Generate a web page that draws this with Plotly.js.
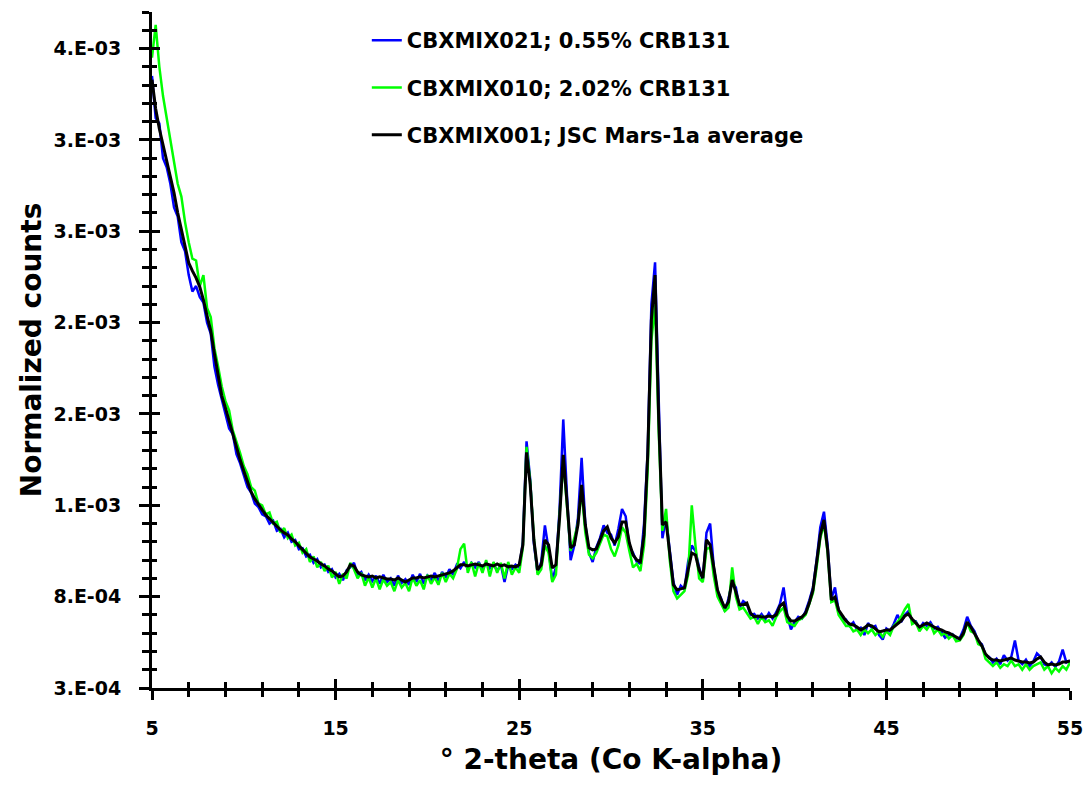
<!DOCTYPE html>
<html><head><meta charset="utf-8">
<script src="https://cdn.plot.ly/plotly-3.0.1.min.js"></script>
<style>html,body{margin:0;padding:0;background:#fff}#chart{width:1089px;height:786px}</style>
</head><body><div id="chart"></div>
<script>
const twoTheta = [5,5.2,5.4,5.6,5.8,6,6.2,6.4,6.6,6.8,
7,7.2,7.4,7.6,7.8,8,8.2,8.4,8.6,8.8,
9,9.2,9.4,9.6,9.8,10,10.2,10.4,10.6,10.8,
11,11.2,11.4,11.6,11.8,12,12.2,12.4,12.6,12.8,
13,13.2,13.4,13.6,13.8,14,14.2,14.4,14.6,14.8,
15,15.2,15.4,15.6,15.8,16,16.2,16.4,16.6,16.8,
17,17.2,17.4,17.6,17.8,18,18.2,18.4,18.6,18.8,
19,19.2,19.4,19.6,19.8,20,20.2,20.4,20.6,20.8,
21,21.2,21.4,21.6,21.8,22,22.2,22.4,22.6,22.8,
23,23.2,23.4,23.6,23.8,24,24.2,24.4,24.6,24.8,
25,25.2,25.4,25.6,25.8,26,26.2,26.4,26.6,26.8,
27,27.2,27.4,27.6,27.8,28,28.2,28.4,28.6,28.8,
29,29.2,29.4,29.6,29.8,30,30.2,30.4,30.6,30.8,
31,31.2,31.4,31.6,31.8,32,32.2,32.4,32.6,32.8,
33,33.2,33.4,33.6,33.8,34,34.2,34.4,34.6,34.8,
35,35.2,35.4,35.6,35.8,36,36.2,36.4,36.6,36.8,
37,37.2,37.4,37.6,37.8,38,38.2,38.4,38.6,38.8,
39,39.2,39.4,39.6,39.8,40,40.2,40.4,40.6,40.8,
41,41.2,41.4,41.6,41.8,42,42.2,42.4,42.6,42.8,
43,43.2,43.4,43.6,43.8,44,44.2,44.4,44.6,44.8,
45,45.2,45.4,45.6,45.8,46,46.2,46.4,46.6,46.8,
47,47.2,47.4,47.6,47.8,48,48.2,48.4,48.6,48.8,
49,49.2,49.4,49.6,49.8,50,50.2,50.4,50.6,50.8,
51,51.2,51.4,51.6,51.8,52,52.2,52.4,52.6,52.8,
53,53.2,53.4,53.6,53.8,54,54.2,54.4,54.6,54.8,
55];

const seriesNames = ["CBXMIX021; 0.55% CRB131", "CBXMIX010; 2.02% CRB131", "CBXMIX001; JSC Mars-1a average"];
const seriesColors = ["#0000FF", "#00FF00", "#000000"];

const countsMix021 = [3650e-6,3420e-6,3390e-6,3200e-6,3150e-6,3060e-6,2930e-6,2880e-6,2740e-6,2690e-6,
2560e-6,2470e-6,2500e-6,2440e-6,2410e-6,2300e-6,2240e-6,2060e-6,1960e-6,1880e-6,
1810e-6,1720e-6,1690e-6,1580e-6,1530e-6,1470e-6,1400e-6,1370e-6,1310e-6,1290e-6,
1250e-6,1240e-6,1200e-6,1215e-6,1160e-6,1170e-6,1125e-6,1150e-6,1100e-6,1110e-6,
1060e-6,1065e-6,1020e-6,1030e-6,985e-6,1005e-6,960e-6,975e-6,935e-6,950e-6,
905e-6,925e-6,890e-6,945e-6,960e-6,985e-6,920e-6,935e-6,890e-6,920e-6,
885e-6,915e-6,870e-6,920e-6,880e-6,900e-6,860e-6,915e-6,875e-6,895e-6,
865e-6,920e-6,880e-6,925e-6,870e-6,915e-6,890e-6,930e-6,885e-6,935e-6,
905e-6,950e-6,920e-6,975e-6,955e-6,990e-6,950e-6,985e-6,960e-6,990e-6,
945e-6,990e-6,955e-6,980e-6,940e-6,975e-6,880e-6,970e-6,950e-6,975e-6,
960e-6,1100e-6,1650e-6,1440e-6,1090e-6,930e-6,990e-6,1190e-6,1060e-6,890e-6,
960e-6,1280e-6,1770e-6,1360e-6,1000e-6,1080e-6,1230e-6,1560e-6,1200e-6,1040e-6,
990e-6,1070e-6,1120e-6,1190e-6,1150e-6,1140e-6,1080e-6,1170e-6,1280e-6,1240e-6,
1070e-6,1040e-6,990e-6,980e-6,1200e-6,1600e-6,2400e-6,2630e-6,1820e-6,1120e-6,
1230e-6,1060e-6,880e-6,810e-6,860e-6,840e-6,990e-6,1080e-6,1050e-6,960e-6,
890e-6,1150e-6,1200e-6,960e-6,830e-6,790e-6,720e-6,790e-6,880e-6,850e-6,
740e-6,775e-6,760e-6,700e-6,705e-6,680e-6,705e-6,675e-6,710e-6,680e-6,
715e-6,760e-6,850e-6,700e-6,620e-6,660e-6,690e-6,680e-6,720e-6,780e-6,
850e-6,1000e-6,1180e-6,1265e-6,1080e-6,790e-6,850e-6,720e-6,680e-6,675e-6,
640e-6,660e-6,620e-6,630e-6,590e-6,655e-6,630e-6,640e-6,590e-6,565e-6,
625e-6,610e-6,650e-6,700e-6,660e-6,700e-6,720e-6,670e-6,665e-6,625e-6,
655e-6,640e-6,660e-6,625e-6,635e-6,605e-6,575e-6,590e-6,595e-6,570e-6,
575e-6,620e-6,690e-6,640e-6,610e-6,555e-6,540e-6,480e-6,470e-6,440e-6,
460e-6,430e-6,480e-6,450e-6,470e-6,560e-6,450e-6,430e-6,455e-6,420e-6,
445e-6,490e-6,470e-6,430e-6,420e-6,440e-6,415e-6,445e-6,510e-6,440e-6,
450e-6];

const countsMix010 = [3750e-6,3930e-6,3700e-6,3540e-6,3420e-6,3300e-6,3190e-6,3060e-6,2990e-6,2850e-6,
2740e-6,2650e-6,2640e-6,2500e-6,2560e-6,2380e-6,2330e-6,2160e-6,2060e-6,1950e-6,
1870e-6,1820e-6,1710e-6,1650e-6,1585e-6,1515e-6,1470e-6,1400e-6,1380e-6,1310e-6,
1300e-6,1250e-6,1260e-6,1200e-6,1210e-6,1150e-6,1175e-6,1120e-6,1140e-6,1080e-6,
1095e-6,1040e-6,1060e-6,990e-6,1020e-6,960e-6,990e-6,940e-6,970e-6,905e-6,
935e-6,870e-6,925e-6,900e-6,985e-6,950e-6,900e-6,930e-6,860e-6,905e-6,
850e-6,900e-6,840e-6,895e-6,860e-6,880e-6,830e-6,890e-6,850e-6,875e-6,
830e-6,905e-6,860e-6,890e-6,840e-6,920e-6,870e-6,905e-6,865e-6,930e-6,
880e-6,925e-6,900e-6,950e-6,1060e-6,1090e-6,930e-6,990e-6,910e-6,985e-6,
930e-6,1000e-6,910e-6,990e-6,930e-6,985e-6,900e-6,990e-6,920e-6,960e-6,
930e-6,1070e-6,1620e-6,1430e-6,1120e-6,920e-6,950e-6,1080e-6,1040e-6,880e-6,
920e-6,1250e-6,1540e-6,1300e-6,1050e-6,1120e-6,1200e-6,1380e-6,1150e-6,1030e-6,
1010e-6,1040e-6,1090e-6,1140e-6,1130e-6,1060e-6,1020e-6,1080e-6,1180e-6,1150e-6,
1050e-6,960e-6,980e-6,940e-6,1080e-6,1500e-6,2200e-6,2400e-6,1700e-6,1160e-6,
1280e-6,1000e-6,830e-6,790e-6,810e-6,830e-6,920e-6,1300e-6,1080e-6,900e-6,
880e-6,1060e-6,1070e-6,910e-6,800e-6,760e-6,720e-6,740e-6,960e-6,800e-6,
730e-6,740e-6,710e-6,680e-6,690e-6,650e-6,690e-6,660e-6,670e-6,640e-6,
690e-6,720e-6,740e-6,660e-6,650e-6,640e-6,670e-6,680e-6,700e-6,760e-6,
820e-6,960e-6,1120e-6,1200e-6,1040e-6,770e-6,780e-6,700e-6,670e-6,640e-6,
640e-6,610e-6,620e-6,590e-6,620e-6,600e-6,620e-6,590e-6,610e-6,580e-6,
610e-6,590e-6,640e-6,660e-6,690e-6,730e-6,760e-6,650e-6,660e-6,610e-6,
640e-6,620e-6,650e-6,600e-6,620e-6,590e-6,600e-6,570e-6,590e-6,555e-6,
560e-6,590e-6,660e-6,610e-6,600e-6,540e-6,530e-6,460e-6,440e-6,420e-6,
440e-6,410e-6,430e-6,420e-6,450e-6,420e-6,430e-6,400e-6,430e-6,400e-6,
420e-6,430e-6,440e-6,400e-6,420e-6,380e-6,410e-6,390e-6,420e-6,400e-6,
440e-6];

const countsMix001 = [3629e-6,3471e-6,3361e-6,3273e-6,3186e-6,3093e-6,3011e-6,2901e-6,2808e-6,2704e-6,
2627e-6,2583e-6,2545e-6,2496e-6,2425e-6,2337e-6,2255e-6,2129e-6,2003e-6,1899e-6,
1833e-6,1762e-6,1680e-6,1609e-6,1549e-6,1488e-6,1434e-6,1373e-6,1335e-6,1302e-6,
1275e-6,1247e-6,1225e-6,1204e-6,1182e-6,1165e-6,1149e-6,1138e-6,1116e-6,1100e-6,
1078e-6,1056e-6,1039e-6,1017e-6,1006e-6,995e-6,979e-6,968e-6,952e-6,941e-6,
924e-6,908e-6,913e-6,935e-6,974e-6,968e-6,935e-6,919e-6,913e-6,908e-6,
913e-6,902e-6,908e-6,902e-6,897e-6,897e-6,891e-6,902e-6,891e-6,880e-6,
891e-6,902e-6,902e-6,908e-6,902e-6,908e-6,913e-6,908e-6,913e-6,919e-6,
924e-6,930e-6,941e-6,957e-6,974e-6,974e-6,968e-6,974e-6,979e-6,974e-6,
968e-6,979e-6,974e-6,968e-6,979e-6,968e-6,974e-6,963e-6,968e-6,963e-6,
974e-6,1083e-6,1590e-6,1412e-6,1110e-6,946e-6,974e-6,1110e-6,1083e-6,957e-6,
974e-6,1231e-6,1576e-6,1329e-6,1067e-6,1083e-6,1193e-6,1412e-6,1193e-6,1067e-6,
1056e-6,1061e-6,1110e-6,1160e-6,1182e-6,1121e-6,1094e-6,1127e-6,1209e-6,1209e-6,
1094e-6,1028e-6,1001e-6,990e-6,1138e-6,1576e-6,2315e-6,2560e-6,1768e-6,1193e-6,
1209e-6,1045e-6,864e-6,837e-6,842e-6,848e-6,946e-6,1039e-6,1028e-6,946e-6,
902e-6,1110e-6,1083e-6,946e-6,837e-6,782e-6,738e-6,771e-6,891e-6,826e-6,
755e-6,755e-6,765e-6,711e-6,689e-6,694e-6,689e-6,689e-6,694e-6,689e-6,
700e-6,749e-6,765e-6,694e-6,667e-6,667e-6,678e-6,689e-6,711e-6,765e-6,
837e-6,974e-6,1138e-6,1220e-6,1056e-6,782e-6,798e-6,727e-6,694e-6,667e-6,
650e-6,645e-6,634e-6,618e-6,629e-6,645e-6,640e-6,623e-6,607e-6,612e-6,
618e-6,618e-6,634e-6,650e-6,667e-6,694e-6,705e-6,678e-6,656e-6,634e-6,
645e-6,656e-6,645e-6,634e-6,623e-6,618e-6,607e-6,601e-6,590e-6,579e-6,
568e-6,601e-6,661e-6,634e-6,596e-6,563e-6,530e-6,486e-6,464e-6,453e-6,
453e-6,448e-6,453e-6,459e-6,464e-6,453e-6,448e-6,442e-6,442e-6,437e-6,
442e-6,459e-6,470e-6,442e-6,426e-6,431e-6,426e-6,431e-6,442e-6,442e-6,
448e-6];

const xTickVals = [5, 15, 25, 35, 45, 55];
const xTickText = ["5", "15", "25", "35", "45", "55"];
const yTickVals = [0.0003, 0.0008, 0.0013, 0.0018, 0.0023, 0.0028, 0.0033, 0.0038];
const yTickText = ["3.E-04", "8.E-04", "1.E-03", "2.E-03", "2.E-03", "3.E-03", "3.E-03", "4.E-03"];

const FONT = "DejaVu Sans, Verdana, sans-serif";
const seriesData = [countsMix021, countsMix010, countsMix001];
const widths = [2.5, 2.5, 3];

const traces = seriesData.map((ys, k) => ({
  x: twoTheta, y: ys, type: "scatter", mode: "lines",
  name: seriesNames[k], legendgroup: "g" + k,
  line: {color: seriesColors[k], width: widths[k]},
  hoverinfo: "skip"
}));
traces.push({x: [], y: [], xaxis: "x2", yaxis: "y2", type: "scatter", mode: "lines", showlegend: false, hoverinfo: "skip"});

const tickFont = {family: FONT, size: 19, color: "#000", weight: "bold"};

const layout = {
  width: 1089, height: 786,
  margin: {l: 152, r: 19, t: 12, b: 98},
  paper_bgcolor: "#fff", plot_bgcolor: "#fff",
  font: {family: FONT, color: "#000", weight: "bold"},
  showlegend: true,
  legend: {
    x: 0.234, y: 0.988, xanchor: "left", yanchor: "top",
    font: {family: FONT, size: 21, color: "#000", weight: "bold"},
    traceorder: "grouped", tracegroupgap: 17,
    bgcolor: "rgba(0,0,0,0)", borderwidth: 0, itemwidth: 30
  },
  xaxis: {
    range: [5, 55], tickmode: "array", tickvals: xTickVals, ticktext: xTickText,
    ticks: "outside", ticklen: 9, tickwidth: 3, tickcolor: "#000",
    showline: true, linewidth: 3, linecolor: "#000",
    showgrid: false, zeroline: false, tickfont: tickFont, ticklabelstandoff: 12,
    minor: {ticks: "outside", tickmode: "linear", tick0: 5, dtick: 2, ticklen: 6, tickwidth: 3, tickcolor: "#000", showgrid: false},
    title: {text: "° 2-theta (Co K-alpha)", font: {family: FONT, size: 28, color: "#000", weight: "bold"}, standoff: 12}
  },
  yaxis: {
    range: [0.0003, 0.004], tickmode: "array", tickvals: yTickVals, ticktext: yTickText,
    ticks: "outside", ticklen: 10, tickwidth: 3, tickcolor: "#000",
    showline: true, linewidth: 3, linecolor: "#000",
    showgrid: false, zeroline: false, tickfont: tickFont, ticklabelstandoff: 14,
    minor: {ticks: "outside", tickmode: "linear", tick0: 0.0003, dtick: 0.0001, ticklen: 7, tickwidth: 3, tickcolor: "#000", showgrid: false},
    title: {text: "Normalized counts", font: {family: FONT, size: 28, color: "#000", weight: "bold"}, standoff: 4}
  },
  xaxis2: {
    overlaying: "x", anchor: "y2", range: [5, 55], tickmode: "array", tickvals: xTickVals,
    ticks: "inside", ticklen: 9, tickwidth: 3, tickcolor: "#000", showticklabels: false,
    showline: false, showgrid: false, zeroline: false,
    minor: {ticks: "inside", tickmode: "linear", tick0: 5, dtick: 2, ticklen: 6, tickwidth: 3, tickcolor: "#000", showgrid: false}
  },
  yaxis2: {
    overlaying: "y", anchor: "x2", side: "left", range: [0.0003, 0.004], tickmode: "array", tickvals: yTickVals,
    ticks: "inside", ticklen: 8, tickwidth: 3, tickcolor: "#000", showticklabels: false,
    showline: false, showgrid: false, zeroline: false,
    minor: {ticks: "inside", tickmode: "linear", tick0: 0.0003, dtick: 0.0001, ticklen: 5, tickwidth: 3, tickcolor: "#000", showgrid: false}
  }
};

Plotly.newPlot("chart", traces, layout, {displayModeBar: false, staticPlot: true});
</script>
</body></html>
